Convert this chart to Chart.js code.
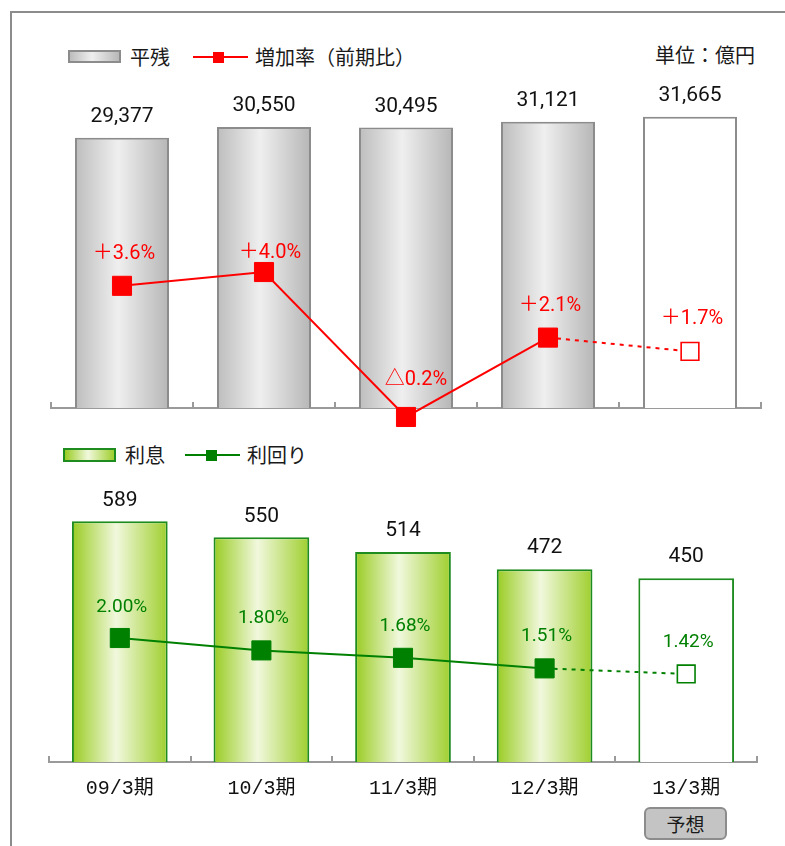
<!DOCTYPE html>
<html>
<head>
<meta charset="UTF-8">
<title>平残・利息の推移</title>
<script src="https://cdn.jsdelivr.net/npm/chart.js"></script>
<style>
    body {
        margin: 0;
        background: #fff;
        font-family: 'Noto Sans CJK JP', sans-serif;
        color: #1a1a1a;
        overflow: hidden;
    }
    .page {
        position: relative;
        width: 785px;
        height: 846px;
        overflow: hidden;
    }
    .frame {
        position: absolute;
        left: 10px;
        top: 11px;
        width: 800px;
        height: 900px;
        border-left: 2px solid #8c8c8c;
        border-top: 2px solid #8c8c8c;
    }
    canvas {
        position: absolute;
        left: 0;
    }
    #topChart { top: 70px; }
    #bottomChart { top: 430px; }
    .txt {
        position: absolute;
        font-size: 20px;
        line-height: 20px;
        white-space: nowrap;
    }
    .swatch {
        position: absolute;
        box-sizing: border-box;
        border: 2px solid;
    }
    .key-line {
        position: absolute;
        height: 2px;
        width: 55px;
    }
    .key-dot {
        position: absolute;
        width: 11px;
        height: 11px;
    }
    .badge {
        position: absolute;
        left: 644px;
        top: 807px;
        width: 83px;
        height: 33px;
        box-sizing: border-box;
        background: #c4c4c4;
        border: 2px solid #8c8c8c;
        border-radius: 6px;
        font-size: 19px;
        line-height: 29px;
        text-align: center;
    }
</style>
</head>
<body>
<div class="page">
    <div class="frame"></div>

    <!-- 上段の凡例 -->
    <div class="swatch" style="left:68px; top:50px; width:53px; height:13px; border-color:#8c8c8c;
         background:linear-gradient(90deg,#bdbdbd,#efefef 45%,#b8b8b8);"></div>
    <div class="txt" style="left:130px; top:47px;">平残</div>
    <div class="key-line" style="left:193px; top:56px; background:#ff0000;"></div>
    <div class="key-dot" style="left:213px; top:52px; background:#ff0000;"></div>
    <div class="txt" style="left:255px; top:47px;">増加率（前期比）</div>
    <div class="txt" style="left:655px; top:45px;">単位：億円</div>

    <!-- 下段の凡例 -->
    <div class="swatch" style="left:63px; top:448px; width:53px; height:14px; border-color:#1e8c1e;
         background:linear-gradient(90deg,#99cc22,#f1f8dd 47%,#9fcf2e);"></div>
    <div class="txt" style="left:125px; top:445px;">利息</div>
    <div class="key-line" style="left:185px; top:454px; background:#008000;"></div>
    <div class="key-dot" style="left:206px; top:450px; background:#008000;"></div>
    <div class="txt" style="left:247px; top:445px;">利回り</div>

    <canvas id="topChart" width="785" height="380"></canvas>
    <canvas id="bottomChart" width="785" height="416"></canvas>

    <div class="badge">予想</div>
</div>

<script>
    // 決算期
    const categories = ['09/3期', '10/3期', '11/3期', '12/3期', '13/3期'];
    const isForecast = [false, false, false, false, true];

    // 平残（億円）と増加率（前期比, %）
    const balance = [29377, 30550, 30495, 31121, 31665];
    const balanceGrowth = [3.6, 4.0, -0.2, 2.1, 1.7];

    // 利息（億円）と利回り（%）
    const interest = [589, 550, 514, 472, 450];
    const yieldRate = [2.00, 1.80, 1.68, 1.51, 1.42];

    // ラベルの位置調整（マーカーからのずれ）
    const growthLabelDx = [2, 6, 10, 2, 2];
    const growthLabelDy = [-32, -19, -37, -32, -32];
    const yieldLabelDx = [2, 2, 2, 2, 2];
    const yieldLabelDy = [-31, -32, -32, -32, -32];

    const numFont = "'Roboto', 'Noto Sans CJK JP', sans-serif";

    // 棒・折れ線の上に数値を描く
    const valueLabels = {
        id: 'valueLabels',
        afterDatasetsDraw(chart) {
            const ctx = chart.ctx;
            chart.data.datasets.forEach((ds, i) => {
                if (!ds.labelText) return;
                const meta = chart.getDatasetMeta(i);
                ctx.save();
                ctx.font = ds.labelFont;
                ctx.fillStyle = ds.labelColor;
                ctx.textAlign = 'center';
                ctx.textBaseline = 'middle';
                meta.data.forEach((el, j) => {
                    const dx = ds.labelDx ? ds.labelDx[j] : 0;
                    const dy = ds.labelDy ? ds.labelDy[j] : -21;
                    ctx.fillText(ds.labelText(ds.data[j]), el.x + dx, el.y + dy);
                });
                ctx.restore();
            });
        }
    };

    // 棒の横方向グラデーション（予想は白抜き）
    function barFill(colors, pct) {
        return function (c) {
            if (c.type !== 'data') return colors[1];
            if (isForecast[c.dataIndex]) return '#ffffff';
            const xs = c.chart.scales.x;
            const cx = xs ? xs.getPixelForValue(c.dataIndex) : NaN;
            if (!Number.isFinite(cx) || !xs.width) return colors[1];
            const half = xs.width / categories.length * pct / 2;
            const g = c.chart.ctx.createLinearGradient(cx - half, 0, cx + half, 0);
            g.addColorStop(0, colors[0]);
            g.addColorStop(0.46, colors[1]);
            g.addColorStop(1, colors[2]);
            return g;
        };
    }

    function lineSet(data, color, fmt, dx, dy, size) {
        return {
            type: 'line',
            data: data,
            yAxisID: 'y2',
            order: 0,
            clip: false,
            borderColor: color,
            borderWidth: 2,
            pointStyle: 'rect',
            pointRadius: isForecast.map(f => f ? 12.5 : 13.5),
            pointHoverRadius: isForecast.map(f => f ? 12.5 : 13.5),
            pointBackgroundColor: isForecast.map(f => f ? '#ffffff' : color),
            pointBorderColor: color,
            pointBorderWidth: isForecast.map(f => f ? 1.6 : 1),
            segment: {
                borderDash: s => isForecast[s.p1DataIndex] ? [4, 5] : undefined
            },
            labelText: fmt,
            labelFont: size + 'px ' + numFont,
            labelColor: color,
            labelDx: dx,
            labelDy: dy
        };
    }

    function xAxis(showLabels) {
        return {
            offset: true,
            grid: {
                offset: true,
                drawOnChartArea: false,
                drawTicks: true,
                tickLength: -6,
                color: '#9a9a9a',
                lineWidth: 2
            },
            border: { display: true, color: '#9a9a9a', width: 2 },
            ticks: showLabels ? {
                color: '#111111',
                padding: 21,
                maxRotation: 0,
                autoSkip: false,
                font: { family: "'Liberation Mono', 'Noto Sans CJK JP', monospace", size: 20 }
            } : { display: false },
            afterFit: s => { s.height = showLabels ? 40 : 0; }
        };
    }

    const commonOptions = {
        responsive: false,
        animation: false,
        events: [],
        plugins: { legend: { display: false }, tooltip: { enabled: false } }
    };

    // 上段：平残と増加率
    new Chart(document.getElementById('topChart'), {
        data: {
            labels: categories,
            datasets: [
                lineSet(balanceGrowth, '#ff0000',
                    v => (v < 0 ? '△' : '＋') + Math.abs(v).toFixed(1) + '%',
                    growthLabelDx, growthLabelDy, 20),
                {
                    type: 'bar',
                    data: balance,
                    yAxisID: 'y',
                    order: 1,
                    backgroundColor: barFill(['#bdbdbd', '#efefef', '#b6b6b6'], 0.662),
                    borderColor: '#8c8c8c',
                    borderWidth: 2,
                    borderSkipped: 'bottom',
                    categoryPercentage: 0.662,
                    barPercentage: 1,
                    labelText: v => v.toLocaleString('en-US'),
                    labelFont: '21px ' + numFont,
                    labelColor: '#111111'
                }
            ]
        },
        options: Object.assign({}, commonOptions, {
            layout: { padding: { left: 51, right: 24, top: 16, bottom: 42 } },
            scales: {
                x: xAxis(false),
                y: { display: false, min: 0, max: 35000 },
                y2: { display: false, min: 0.06, max: 9.39 }
            }
        }),
        plugins: [valueLabels]
    });

    // 下段：利息と利回り
    new Chart(document.getElementById('bottomChart'), {
        data: {
            labels: categories,
            datasets: [
                lineSet(yieldRate, '#008000',
                    v => v.toFixed(2) + '%',
                    yieldLabelDx, yieldLabelDy, 19),
                {
                    type: 'bar',
                    data: interest,
                    yAxisID: 'y',
                    order: 1,
                    backgroundColor: barFill(['#99cc22', '#f1f8dd', '#9fcf2e'], 0.676),
                    borderColor: '#1e8c1e',
                    borderWidth: 2,
                    borderSkipped: 'bottom',
                    categoryPercentage: 0.676,
                    barPercentage: 1,
                    labelText: v => String(v),
                    labelFont: '21px ' + numFont,
                    labelColor: '#111111'
                }
            ]
        },
        options: Object.assign({}, commonOptions, {
            layout: { padding: { left: 49, right: 28, top: 46, bottom: 44 } },
            scales: {
                x: xAxis(true),
                y: { display: false, min: 0, max: 700 },
                y2: { display: false, min: 0, max: 4.613 }
            }
        }),
        plugins: [valueLabels]
    });
</script>
</body>
</html>
